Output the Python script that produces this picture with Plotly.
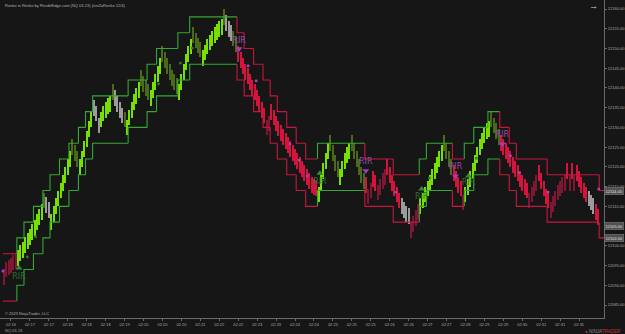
import plotly.graph_objects as go

# ---------------- data ----------------
closes = [
    12094, 12096, 12096.5, 12097, 12097.75, 12098.25,
    12099, 12100.25, 12101, 12102.25, 12103.25, 12104.25, 12105.5, 12106.5, 12108, 12109.25, 12110.5,
    12109.5, 12108.25, 12107, 12108,
    12110, 12112, 12114, 12116, 12118, 12120, 12122, 12124,
    12123, 12121.5, 12120,
    12122, 12124, 12126.5, 12129, 12131.5, 12134,
    12133, 12131.5, 12132.5,
    12134, 12135.5, 12136.5, 12137.5, 12138,
    12137, 12135.5, 12134, 12132.5, 12131, 12130,
    12132, 12134.5, 12136.5, 12138.5, 12140, 12141.5,
    12140.5, 12139, 12138, 12137,
    12139.5, 12141.5, 12143.5, 12145.5, 12147.5,
    12146.5, 12145, 12143.5, 12142, 12140.5, 12139.5, 12138.5,
    12141, 12143.5, 12146, 12148.5, 12150.5, 12152.5,
    12151.5, 12150, 12148.75, 12147.75,
    12149.5, 12151, 12152.5, 12153.5, 12154.5, 12155.5, 12156.25, 12157, 12157.5,
    12156, 12154.5, 12153, 12152, 12150.5, 12149,
    12146.5, 12145, 12143.5, 12142, 12141, 12139.5, 12138, 12137, 12135.5, 12134, 12132.5, 12131,
    12132, 12133, 12132, 12130.5,
    12129, 12127.75, 12126.5, 12125.5, 12124.5, 12123.5,
    12122.5, 12121.5, 12120.5, 12119.5, 12118.5, 12117.5, 12116.5, 12115.5, 12114.5, 12113.5, 12113, 12112.5,
    12115, 12118, 12121, 12123.5, 12126,
    12124, 12121.5, 12119, 12117.5,
    12119.5, 12121.5, 12123.5, 12125, 12126,
    12124, 12122, 12120, 12118, 12116, 12114.5,
    12113.5, 12114.5, 12116, 12115, 12114, 12115.5, 12117, 12118.5, 12119.5, 12118, 12116, 12114,
    12112.5, 12111, 12109.5, 12108, 12107, 12106, 12105.5, 12106,
    12107.5, 12109, 12110.5, 12112, 12113.5, 12115, 12116.5, 12118, 12119.5, 12121, 12122.5, 12124, 12125.5,
    12124, 12122, 12120, 12118,
    12116.5, 12115, 12113.5, 12112.5, 12113,
    12115, 12117, 12119, 12121, 12123, 12125, 12127, 12128.5, 12130, 12131, 12131.5,
    12130, 12128.5, 12127, 12125.5,
    12124, 12123, 12122, 12121, 12120, 12118.5, 12117.5, 12116.5, 12115, 12114, 12113, 12112,
    12113.5, 12115, 12116.5, 12118,
    12116.5, 12114.5, 12112.5, 12110.5, 12109.5,
    12111, 12112.5, 12114, 12115.5, 12116.5, 12117.5, 12118, 12117, 12118, 12117, 12118,
    12116.5, 12115, 12113.5, 12112, 12111, 12110, 12109, 12108, 12106.5, 12105.25,
]
grey_bars = [18, 19, 38, 39, 40, 47, 48, 49, 50, 94, 95, 96, 168, 169, 170, 171, 247, 248, 249]

band_start = [0, 6, 9, 13, 17, 20, 24, 28, 32, 35, 38, 53, 61, 65, 74, 79,
              99, 102, 106, 110, 113, 116, 120, 124, 128, 133, 153, 165, 176, 179,
              190, 195, 199, 205, 210, 214, 217, 230, 252]
band_lower = [12086, 12090, 12094, 12098, 12102, 12106, 12110, 12114, 12118, 12122, 12126, 12130,
              12134, 12138, 12142, 12146, 12142, 12138, 12134, 12130, 12126, 12122, 12118, 12114,
              12110, 12114, 12110, 12106, 12110, 12114, 12110, 12114, 12118, 12122, 12118, 12114,
              12110, 12106, 12102]
band_upper = [12098, 12102, 12106, 12110, 12114, 12118, 12122, 12126, 12130, 12134, 12138, 12142,
              12146, 12150, 12154, 12158, 12154, 12150, 12146, 12142, 12138, 12134, 12130, 12126,
              12122, 12126, 12122, 12118, 12122, 12126, 12122, 12126, 12130, 12134, 12130, 12126,
              12122, 12118, 12114]

green_dot_bar = [9.9, 13.4, 65.3, 74.6, 79.6, 179.8, 199.6]
green_dot_price = [12097.2, 12102.3, 12141.0, 12146.3, 12150.1, 12117.2, 12122.2]
purple_dot_bar = [-0.4, 103.2, 106.6, 120.9, 124.7, 128.1, 165.5, 214.0, 217.7, 229.9, 251.3]
purple_dot_price = [12093.6, 12145.6, 12141.8, 12125.8, 12121.7, 12117.7, 12113.6, 12122.8, 12118.5,
                    12113.6, 12114.4]

up_sig_bar = [6.4, 133.5, 176.5, 196.3]
up_sig_tri = [12094.4, 12118.4, 12114.4, 12117.7]
up_sig_txt = [12092.0, 12116.2, 12112.4, 12115.9]
dn_sig_bar = [99.4, 152.9, 190.8, 210.6]
dn_sig_tri = [12149.9, 12119.0, 12117.7, 12125.8]
dn_sig_txt = [12151.9, 12121.2, 12120.0, 12128.1]

tick_bars = list(range(3, 244, 8))
tick_text = ["02:16", "02:17", "02:17", "02:18", "02:18", "02:18", "02:19", "02:20", "02:20",
             "02:20", "02:21", "02:22", "02:22", "02:23", "02:23", "02:24", "02:24", "02:25",
             "02:25", "02:25", "02:26", "02:26", "02:27", "02:27", "02:28", "02:29", "02:29",
             "02:30", "02:31", "02:31", "02:31"]
price_ticks = list(range(12085, 12161, 5))
price_labels = [(12114.00, "12114.00"), (12105.00, "12105.00"), (12102.00, "12102.00")]

BRICK = 4
X_RANGE = [-1.632, 253.53]
Y_RANGE = [12081.71, 12162.28]

BG = "#161616"
G_BRIGHT, G_DARK = "#78e000", "#4a6a1a"
R_BRIGHT, R_DARK = "#d4143c", "#7e1634"
GREY = "#9c9c9c"
G_LINE, R_LINE = "#34a834", "#c8163e"

# ---------------- build figure ----------------
def band_color(i):
    k = max(j for j in range(len(band_start)) if band_start[j] <= i)
    return "r" if k == 0 or band_lower[k] < band_lower[k - 1] else "g"

lows, heights, colors = [], [], []
for i, c in enumerate(closes):
    up = i == 0 or c >= closes[i - 1]
    lows.append(c - BRICK if up else c)
    heights.append(BRICK)
    bc = band_color(i)
    if i in grey_bars:
        col = GREY
    elif bc == "g":
        col = G_BRIGHT if up else G_DARK
    else:
        col = R_BRIGHT if not up else R_DARK
    colors.append(col)

fig = go.Figure()

# bands
segs = {"g": ([], []), "r": ([], [])}
for k in range(len(band_start)):
    x0 = band_start[k] - 0.5 if k > 0 else -0.4
    x1 = band_start[k + 1] - 0.5 if k + 1 < len(band_start) else X_RANGE[1]
    col = "r" if k == 0 or band_lower[k] < band_lower[k - 1] else "g"
    xs, ys = segs[col]
    for lev in (band_lower, band_upper):
        if k > 0:
            xs += [x0, x0, x1, None]
            ys += [lev[k - 1], lev[k], lev[k], None]
        else:
            xs += [x0, x1, None]
            ys += [lev[k], lev[k], None]
for col, lc in (("g", G_LINE), ("r", R_LINE)):
    xs, ys = segs[col]
    fig.add_trace(go.Scatter(x=xs, y=ys, mode="lines", line=dict(color=lc, width=1.1),
                             hoverinfo="skip", showlegend=False))

fig.add_trace(go.Bar(x=list(range(len(closes))), y=heights, base=lows, width=0.45,
                     marker=dict(color=colors, line=dict(width=0)), showlegend=False))

fig.add_trace(go.Scatter(x=green_dot_bar, y=green_dot_price, mode="markers",
                         marker=dict(symbol="square", size=2.5, color="#2f7a2f"), showlegend=False))
fig.add_trace(go.Scatter(x=purple_dot_bar, y=purple_dot_price, mode="markers",
                         marker=dict(symbol="square", size=2.5, color="#a445c8"), showlegend=False))
fig.add_trace(go.Scatter(x=up_sig_bar, y=up_sig_tri, mode="markers",
                         marker=dict(symbol="triangle-up", size=6, color="#2f8f35"), showlegend=False))
fig.add_trace(go.Scatter(x=dn_sig_bar, y=dn_sig_tri, mode="markers",
                         marker=dict(symbol="triangle-down", size=6, color="#a03cc0"), showlegend=False))
fig.add_trace(go.Scatter(x=up_sig_bar, y=up_sig_txt, mode="text", text=["RIR"] * len(up_sig_bar),
                         textfont=dict(family="DejaVu Sans", size=8, color="#2e7032"),
                         textposition="middle center", showlegend=False))
fig.add_trace(go.Scatter(x=dn_sig_bar, y=dn_sig_txt, mode="text", text=["RIR"] * len(dn_sig_bar),
                         textfont=dict(family="DejaVu Sans", size=8, color="#9050a4"),
                         textposition="middle center", showlegend=False))

annos = [
    dict(x=0.005, y=0.997, xref="paper", yref="paper", xanchor="left", yanchor="top",
         text="Renko in Renko by FlexiblEdge.com (NQ 03-23) (ninZaRenko 12/4)",
         font=dict(size=4, color="#b0b0b0"), showarrow=False),
    dict(x=0.005, y=0.0, xref="paper", yref="paper", xanchor="left", yanchor="bottom",
         text="© 2023 NinjaTrader, LLC", font=dict(size=4, color="#b0b0b0"), showarrow=False),
    dict(x=0.982, y=0.981, xref="paper", yref="paper", xanchor="center", yanchor="middle",
         text="→", font=dict(size=9, color="#d0d0d0"), showarrow=False),
    dict(x=0.005, y=-0.038, xref="paper", yref="paper", xanchor="left", yanchor="middle",
         text="NQ 03-23", font=dict(size=4, color="#a0a0a0"), showarrow=False),
    dict(x=1.031, y=-0.043, xref="paper", yref="paper", xanchor="right", yanchor="middle",
         text="<span style='color:#c0392b'>●</span> <span style='color:#8a8a8a'>NINJA</span>"
              "<span style='color:#c0392b'>TRADER</span>",
         font=dict(size=4.5), showarrow=False),
]
for pv, txt in price_labels:
    annos.append(dict(x=1, y=pv, xref="paper", yref="y", xanchor="left", yanchor="middle",
                      text=txt, font=dict(size=4, color="#e0e0e0"), bgcolor="#505050",
                      bordercolor="#808080", borderwidth=0.5, borderpad=1, showarrow=False))

# tick labels hidden under a price-label box (as in the reference) are left blank
covered = {round(pv) for pv, _ in price_labels}
price_ticktext = ["" if v in covered else f"{v:.2f}" for v in price_ticks]

fig.update_layout(
    width=625, height=334, margin=dict(l=0, r=19, t=0, b=16),
    paper_bgcolor=BG, plot_bgcolor=BG, bargap=0, barmode="overlay",
    font=dict(family="Arial, Liberation Sans", color="#a0a0a0"),
    annotations=annos,
    xaxis=dict(range=X_RANGE, tickvals=tick_bars, ticktext=tick_text, showgrid=False, zeroline=False,
               showline=True, linecolor="#6a6a6a", linewidth=1, ticks="outside", ticklen=2,
               tickcolor="#6a6a6a", tickfont=dict(size=4, color="#a8a8a8")),
    yaxis=dict(range=Y_RANGE, side="right", tickvals=price_ticks,
               ticktext=price_ticktext, showgrid=False, zeroline=False,
               showline=True, linecolor="#6a6a6a", linewidth=1, ticks="outside", ticklen=2,
               tickcolor="#6a6a6a", tickfont=dict(size=4, color="#a8a8a8")),
)

fig.write_html("out.html")
